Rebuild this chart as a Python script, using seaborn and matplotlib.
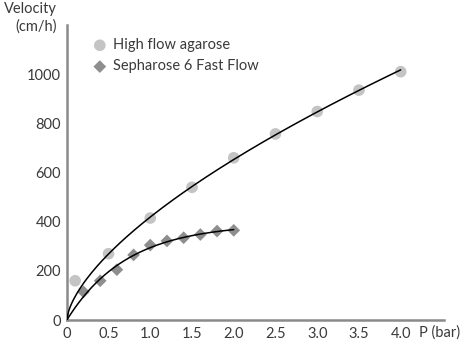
import numpy as np
import matplotlib
matplotlib.use("Agg")
import matplotlib.pyplot as plt
import seaborn as sns

# data
p_agarose = [0.1, 0.5, 1.0, 1.5, 2.0, 2.5, 3.0, 3.5, 4.0]
v_agarose = [160, 270, 415, 540, 660, 757, 848, 935, 1010]
p_sepharose = [0.2, 0.4, 0.6, 0.8, 1.0, 1.2, 1.4, 1.6, 1.8, 2.0]
v_sepharose = [115, 160, 205, 265, 305, 322, 335, 348, 362, 365]

x_ticks = [0, 0.5, 1.0, 1.5, 2.0, 2.5, 3.0, 3.5, 4.0]
x_ticklabels = ["0", "0.5", "1.0", "1.5", "2.0", "2.5", "3.0", "3.5", "4.0"]
y_ticks = [0, 200, 400, 600, 800, 1000]

sns.set_theme(style="white")
plt.rcParams['font.family'] = ['Lato', 'DejaVu Sans']
text_col = "#3a3a3a"
axis_col = "#8a8a8a"

fig = plt.figure(figsize=(4.67, 3.42), dpi=100)
ax = fig.add_axes([0.143, 0.064, 0.808, 0.863])

# fitted trend curves (power law for agarose, saturating curve for Sepharose)
pa = np.array(p_agarose[1:])
va = np.array(v_agarose[1:])
b, ln_a = np.polyfit(np.log(pa), np.log(va), 1)
xa = np.linspace(0, 4.0, 200)
ax.plot(xa, np.exp(ln_a) * xa ** b, color="black", lw=1.1, zorder=3)

ps = np.array(p_sepharose)
vs = np.array(v_sepharose)
best = None
for k in np.linspace(0.2, 2.0, 400):
    basis = 1 - np.exp(-ps / k)
    vmax = (basis @ vs) / (basis @ basis)
    err = np.sum((vmax * basis - vs) ** 2)
    if best is None or err < best[0]:
        best = (err, k, vmax)
_, k_fit, vmax_fit = best
xs = np.linspace(0, 2.0, 200)
ax.plot(xs, vmax_fit * (1 - np.exp(-xs / k_fit)), color="black", lw=1.1, zorder=3)

sns.scatterplot(x=p_agarose, y=v_agarose, ax=ax, marker="o", s=70,
                color="#c4c4c4", edgecolor="none", zorder=2,
                label="High flow agarose")
sns.scatterplot(x=p_sepharose, y=v_sepharose, ax=ax, marker="D", s=42,
                color="#8e8e8e", edgecolor="none", zorder=2,
                label="Sepharose 6 Fast Flow")

ax.set_xlim(0, 4.52)
ax.set_ylim(0, 1200)
ax.set_xticks(x_ticks)
ax.set_xticklabels(x_ticklabels)
ax.set_yticks(y_ticks)
ax.tick_params(axis="both", length=3, width=1, color=axis_col,
               labelcolor=text_col, labelsize=10.5, direction="in", pad=4)
ax.tick_params(axis="x", pad=5)
for side in ["top", "right"]:
    ax.spines[side].set_visible(False)
for side in ["left", "bottom"]:
    ax.spines[side].set_color(axis_col)
    ax.spines[side].set_linewidth(1.8)
ax.grid(False)

fig.text(0.122, 0.995, "Velocity\n(cm/h)", ha="right", va="top",
         fontsize=10.5, color=text_col, linespacing=1.35)
fig.text(0.897, 0.028, "P (bar)", ha="left", va="center",
         fontsize=10.5, color=text_col)

leg = ax.legend(loc="upper left", bbox_to_anchor=(0.045, 0.99), frameon=False,
                fontsize=10.5, handlelength=0.8, handletextpad=0.5,
                labelspacing=0.5, borderaxespad=0.3)
for t in leg.get_texts():
    t.set_color(text_col)

fig.savefig("out.png", dpi=100)
